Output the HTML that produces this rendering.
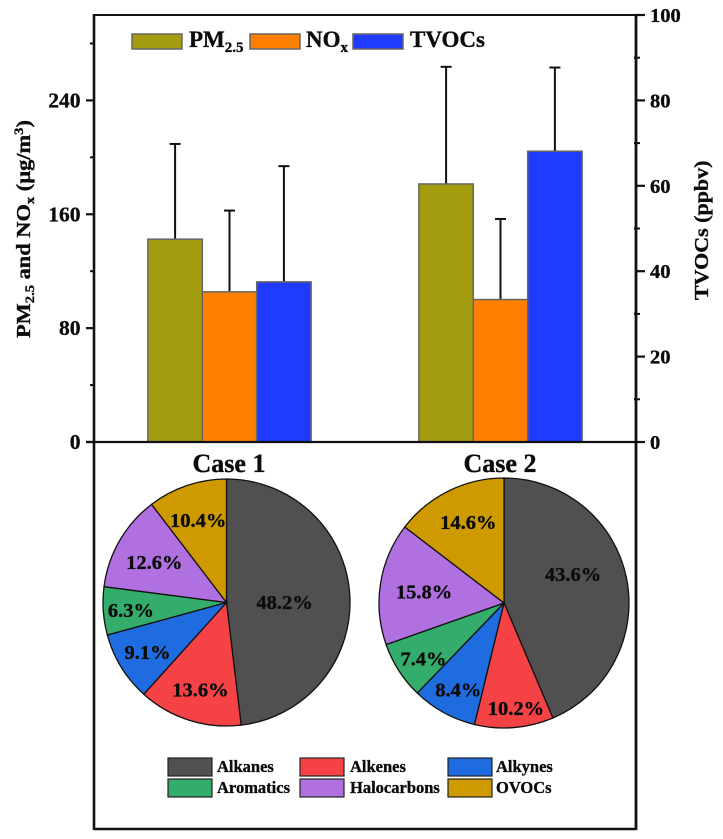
<!DOCTYPE html>
<html lang="en">
<head>
<meta charset="utf-8">
<title>PM2.5, NOx and TVOCs by case</title>
<style>
html,body{margin:0;padding:0;background:#fff;}
svg{display:block;filter:blur(0.35px);}
text{font-family:"Liberation Serif",serif;font-weight:bold;fill:#0c0c0c;stroke:#0c0c0c;stroke-width:0.35px;}
</style>
</head>
<body>
<svg id="chart" xmlns="http://www.w3.org/2000/svg" width="723" height="839" viewBox="0 0 723 839">
  <rect x="0" y="0" width="723" height="839" fill="#fff"/>

  <g id="bars"></g>
  <g id="pies"></g>

  <g stroke="#111" fill="none">
    <line x1="94" y1="15" x2="636" y2="15" stroke-width="2"/>
    <line x1="94" y1="14" x2="94" y2="830" stroke-width="2.6"/>
    <line x1="636" y1="14" x2="636" y2="830" stroke-width="2.8"/>
    <line x1="94" y1="829" x2="636" y2="829" stroke-width="2.6"/>
    <line x1="86" y1="442" x2="636" y2="442" stroke-width="2.2"/>
  </g>
  <g id="axes"></g>

  <text transform="translate(30,338) rotate(-90) scale(1.12,1)" font-size="20">PM<tspan font-size="13" dy="4">2.5</tspan><tspan dy="-4"> and NO</tspan><tspan font-size="13" dy="4">x</tspan><tspan dy="-4"> (µg/m</tspan><tspan font-size="13" dy="-7">3</tspan><tspan dy="7">)</tspan></text>
  <text transform="translate(708,300) rotate(-90) scale(1.1,1)" font-size="20">TVOCs (ppbv)</text>

  <g>
    <rect x="132" y="34" width="50" height="15" fill="#a39c0e" stroke="#666" stroke-width="1.5"/>
    <text x="189" y="47" font-size="23">PM<tspan font-size="15" dy="5">2.5</tspan></text>
    <rect x="250" y="34" width="50" height="15" fill="#ff7f00" stroke="#666" stroke-width="1.5"/>
    <text x="306" y="47" font-size="23">NO<tspan font-size="15" dy="5">x</tspan></text>
    <rect x="353" y="34" width="50" height="15" fill="#1f3bff" stroke="#666" stroke-width="1.5"/>
    <text x="410" y="47" font-size="23">TVOCs</text>
  </g>

  <g>
    <rect x="168" y="758" width="44" height="18" fill="#505050" stroke="#222" stroke-width="1.2"/>
    <text x="217" y="772" font-size="16.5">Alkanes</text>
    <rect x="300" y="758" width="44" height="18" fill="#f44245" stroke="#222" stroke-width="1.2"/>
    <text x="350" y="772" font-size="16.5">Alkenes</text>
    <rect x="448" y="758" width="44" height="18" fill="#1f6be0" stroke="#222" stroke-width="1.2"/>
    <text x="496" y="772" font-size="16.5">Alkynes</text>
    <rect x="168" y="779" width="44" height="18" fill="#34ad6c" stroke="#222" stroke-width="1.2"/>
    <text x="217" y="793" font-size="16.5">Aromatics</text>
    <rect x="300" y="779" width="44" height="18" fill="#b070e0" stroke="#222" stroke-width="1.2"/>
    <text x="350" y="793" font-size="16.5">Halocarbons</text>
    <rect x="448" y="779" width="44" height="18" fill="#cf9a00" stroke="#222" stroke-width="1.2"/>
    <text x="496" y="793" font-size="16.5">OVOCs</text>
  </g>
</svg>

<script>
// ---- Chart data ----
const categories = ["Case 1", "Case 2"];
const pm25Values = [142.5, 181.3];
const pm25Errors = [66.9, 82.3];
const noxValues = [105.5, 100.1];
const noxErrors = [57.1, 56.6];
const tvocValues = [37.5, 68.1];
const tvocErrors = [27.1, 19.6];
const leftTickValues = [0, 80, 160, 240];
const leftMinorTicks = [40, 120, 200, 280];
const rightTickValues = [0, 20, 40, 60, 80, 100];
const rightMinorTicks = [10, 30, 50, 70, 90];
const speciesNames = ["Alkanes", "Alkenes", "Alkynes", "Aromatics", "Halocarbons", "OVOCs"];
const case1Shares = [48.2, 13.6, 9.1, 6.3, 12.6, 10.4];
const case2Shares = [43.6, 10.2, 8.4, 7.4, 15.8, 14.6];

// ---- Scales ----
const NS = "http://www.w3.org/2000/svg";
const BASE_Y = 442;
const yLeft = v => BASE_Y - v * (427 / 300);
const yRight = v => BASE_Y - v * (427 / 100);
const xCenter = i => 229.5 + i * 271;
const BAR_W = 54.4;
const slug = s => s.toLowerCase().replace(/[^a-z0-9]+/g, "-");

function make(tag, parent, attrs, txt) {
  const el = document.createElementNS(NS, tag);
  for (const k in attrs) el.setAttribute(k, attrs[k]);
  if (txt !== undefined) el.textContent = txt;
  parent.appendChild(el);
  return el;
}

// ---- Axis ticks ----
const axes = document.getElementById("axes");
leftTickValues.forEach(v => {
  const t = make("line", axes, {x1: 86, x2: 94, y1: yLeft(v), y2: yLeft(v), stroke: "#111", "stroke-width": 2.2});
  
  
  const l = make("text", axes, {x: 80.5, y: yLeft(v) + 7, "text-anchor": "end", "font-size": 21.5}, String(v));
  
  
});
leftMinorTicks.forEach(v => {
  const t = make("line", axes, {x1: 90, x2: 94, y1: yLeft(v), y2: yLeft(v), stroke: "#111", "stroke-width": 2});
  
  
});
rightTickValues.forEach(v => {
  const t = make("line", axes, {x1: 636, x2: 645, y1: yRight(v), y2: yRight(v), stroke: "#111", "stroke-width": 2.2});
  
  
  const l = make("text", axes, {x: 650, y: yRight(v) + 7, "font-size": 20.5}, String(v));
  
  
});
rightMinorTicks.forEach(v => {
  const t = make("line", axes, {x1: 634, x2: 640, y1: yRight(v), y2: yRight(v), stroke: "#111", "stroke-width": 2});
  
  
});

// ---- Bars with upper error whiskers ----
const barsLayer = document.getElementById("bars");
function drawSeries(name, values, errors, color, scale, slot) {
  values.forEach((v, i) => {
    const cx = xCenter(i) + (slot - 1) * BAR_W;
    const top = scale(v);
    const whisker = scale(v + errors[i]);
    const line = make("line", barsLayer, {x1: cx, x2: cx, y1: top, y2: whisker, stroke: "#111", "stroke-width": 2});
    
    
    const cap = make("line", barsLayer, {x1: cx - 5.5, x2: cx + 5.5, y1: whisker, y2: whisker, stroke: "#111", "stroke-width": 2});
    
    
    const bar = make("rect", barsLayer, {x: cx - BAR_W / 2, y: top, width: BAR_W, height: BASE_Y - top, fill: color, stroke: "#666", "stroke-width": 1.5});
    
    
  });
}
drawSeries("pm25", pm25Values, pm25Errors, "#a39c0e", yLeft, 0);
drawSeries("nox", noxValues, noxErrors, "#ff7f00", yLeft, 1);
drawSeries("tvocs", tvocValues, tvocErrors, "#1f3bff", yRight, 2);

// ---- Pies ----
const piesLayer = document.getElementById("pies");
const sliceColors = ["#505050", "#f44245", "#1f6be0", "#34ad6c", "#b070e0", "#cf9a00"];
function drawPie(caseIndex, shares) {
  const layouts = [
    {cx: 226.5, cy: 602.5, r: 123.5, frac: [.47, .735, .754, .776, .671, .706], turn: [2.7, -.9, -.4, -.6, -.6, -.3]},
    {cx: 504, cy: 603, r: 125, frac: [.60, .845, .784, .784, .646, .708], turn: [-11.4, -1.8, -1, -1.9, -.7, 2.5]}
  ];
  const p = layouts[caseIndex];
  const caseName = slug(categories[caseIndex]);
  const title = make("text", piesLayer, {x: xCenter(caseIndex) - 0.5, y: 472, "text-anchor": "middle", "font-size": 26}, categories[caseIndex]);
  
  
  const total = shares.reduce((a, b) => a + b, 0);
  const pt = (deg, rad) => {
    const a = deg * Math.PI / 180;
    return [p.cx + rad * Math.sin(a), p.cy - rad * Math.cos(a)];
  };
  let start = 0;
  const mids = [];
  shares.forEach((s, i) => {
    const sweep = s / total * 360;
    const end = start + sweep;
    const a = pt(start, p.r);
    const b = pt(end, p.r);
    const d = "M" + p.cx + " " + p.cy + "L" + a[0] + " " + a[1] + "A" + p.r + " " + p.r + " 0 " + (sweep > 180 ? 1 : 0) + " 1 " + b[0] + " " + b[1] + "Z";
    const slice = make("path", piesLayer, {d: d, fill: sliceColors[i], stroke: "#111", "stroke-width": 1.3});
    
    
    mids.push(start + sweep / 2);
    start = end;
  });
  shares.forEach((s, i) => {
    const q = pt(mids[i] + p.turn[i], p.r * p.frac[i]);
    const label = make("text", piesLayer, {x: q[0], y: q[1] + 7, "text-anchor": "middle", "font-size": 20.5}, s.toFixed(1) + "%");
    
    
  });
}
drawPie(0, case1Shares);
drawPie(1, case2Shares);
</script>
</body>
</html>
